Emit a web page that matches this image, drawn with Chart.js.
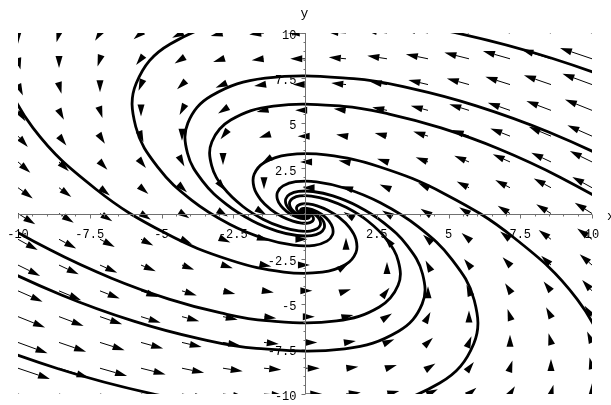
<!DOCTYPE html>
<html>
<head>
<meta charset="utf-8">
<script src="https://cdn.jsdelivr.net/npm/chart.js@4.4.0/dist/chart.umd.min.js"></script>
<style>
  html, body { margin: 0; padding: 0; background: #fff; }
  canvas { display: block; }
</style>
</head>
<body>
<canvas id="phase" width="611" height="405"></canvas>
<script>
// Phase plane of x' = -x - y, y' = x : direction field plus eight solution curves.

// 15 x 15 grid of field samples (rows run from y = 10 down to y = -10)
var gridX = [-10, -8.571, -7.143, -5.714, -4.286, -2.857, -1.429, 0, 1.429, 2.857, 4.286, 5.714, 7.143, 8.571, 10];
var gridY = [10, 8.571, 7.143, 5.714, 4.286, 2.857, 1.429, 0, -1.429, -2.857, -4.286, -5.714, -7.143, -8.571, -10];

// field components, in grid steps of 10/7
var fieldU = [
    [ 0, -1, -2, -3, -4, -5, -6, -7, -8, -9, -10, -11, -12, -13, -14],
    [ 1,  0, -1, -2, -3, -4, -5, -6, -7, -8,  -9, -10, -11, -12, -13],
    [ 2,  1,  0, -1, -2, -3, -4, -5, -6, -7,  -8,  -9, -10, -11, -12],
    [ 3,  2,  1,  0, -1, -2, -3, -4, -5, -6,  -7,  -8,  -9, -10, -11],
    [ 4,  3,  2,  1,  0, -1, -2, -3, -4, -5,  -6,  -7,  -8,  -9, -10],
    [ 5,  4,  3,  2,  1,  0, -1, -2, -3, -4,  -5,  -6,  -7,  -8,  -9],
    [ 6,  5,  4,  3,  2,  1,  0, -1, -2, -3,  -4,  -5,  -6,  -7,  -8],
    [ 7,  6,  5,  4,  3,  2,  1,  0, -1, -2,  -3,  -4,  -5,  -6,  -7],
    [ 8,  7,  6,  5,  4,  3,  2,  1,  0, -1,  -2,  -3,  -4,  -5,  -6],
    [ 9,  8,  7,  6,  5,  4,  3,  2,  1,  0,  -1,  -2,  -3,  -4,  -5],
    [10,  9,  8,  7,  6,  5,  4,  3,  2,  1,   0,  -1,  -2,  -3,  -4],
    [11, 10,  9,  8,  7,  6,  5,  4,  3,  2,   1,   0,  -1,  -2,  -3],
    [12, 11, 10,  9,  8,  7,  6,  5,  4,  3,   2,   1,   0,  -1,  -2],
    [13, 12, 11, 10,  9,  8,  7,  6,  5,  4,   3,   2,   1,   0,  -1],
    [14, 13, 12, 11, 10,  9,  8,  7,  6,  5,   4,   3,   2,   1,   0]
];
var fieldV = [
    [-7, -6, -5, -4, -3, -2, -1, 0, 1, 2, 3, 4, 5, 6, 7],
    [-7, -6, -5, -4, -3, -2, -1, 0, 1, 2, 3, 4, 5, 6, 7],
    [-7, -6, -5, -4, -3, -2, -1, 0, 1, 2, 3, 4, 5, 6, 7],
    [-7, -6, -5, -4, -3, -2, -1, 0, 1, 2, 3, 4, 5, 6, 7],
    [-7, -6, -5, -4, -3, -2, -1, 0, 1, 2, 3, 4, 5, 6, 7],
    [-7, -6, -5, -4, -3, -2, -1, 0, 1, 2, 3, 4, 5, 6, 7],
    [-7, -6, -5, -4, -3, -2, -1, 0, 1, 2, 3, 4, 5, 6, 7],
    [-7, -6, -5, -4, -3, -2, -1, 0, 1, 2, 3, 4, 5, 6, 7],
    [-7, -6, -5, -4, -3, -2, -1, 0, 1, 2, 3, 4, 5, 6, 7],
    [-7, -6, -5, -4, -3, -2, -1, 0, 1, 2, 3, 4, 5, 6, 7],
    [-7, -6, -5, -4, -3, -2, -1, 0, 1, 2, 3, 4, 5, 6, 7],
    [-7, -6, -5, -4, -3, -2, -1, 0, 1, 2, 3, 4, 5, 6, 7],
    [-7, -6, -5, -4, -3, -2, -1, 0, 1, 2, 3, 4, 5, 6, 7],
    [-7, -6, -5, -4, -3, -2, -1, 0, 1, 2, 3, 4, 5, 6, 7],
    [-7, -6, -5, -4, -3, -2, -1, 0, 1, 2, 3, 4, 5, 6, 7]
];
var FIELD_UNIT = 10 / 7;
var ARROW_SCALE = 0.06;

var tickValues = [-10, -7.5, -5, -2.5, 2.5, 5, 7.5, 10];
var tickLabels = ['-10', '-7.5', '-5', '-2.5', '2.5', '5', '7.5', '10'];

// solution curves, outer end first, winding into the origin
var curveA = [[-10.90, 8.88], [-9.479, 4.740], [-7.282, 1.345], [-4.853, -1.100], [-2.589, -2.589], [-0.735, -3.243],
    [0.601, -3.252], [1.415, -2.829], [1.772, -2.173], [1.777, -1.448], [1.546, -0.773], [1.187, -0.219], [0.791, 0.179],
    [0.422, 0.422], [0.120, 0.529], [-0.098, 0.530], [-0.231, 0.461], [-0.289, 0.354], [-0.290, 0.236], [-0.252, 0.126],
    [-0.194, 0.036], [-0.129, -0.029], [-0.069, -0.069], [-0.020, -0.086], [0.016, -0.086], [0.038, -0.075]];
var curveA2 = [[10.90, -8.88], [9.479, -4.740], [7.282, -1.345], [4.853, 1.100], [2.589, 2.589], [0.735, 3.243],
    [-0.601, 3.252], [-1.415, 2.829], [-1.772, 2.173], [-1.777, 1.448], [-1.546, 0.773], [-1.187, 0.219], [-0.791, -0.179],
    [-0.422, -0.422], [-0.120, -0.529], [0.098, -0.530], [0.231, -0.461], [0.289, -0.354], [0.290, -0.236], [0.252, -0.126],
    [0.194, -0.036], [0.129, 0.029], [0.069, 0.069], [0.020, 0.086], [-0.016, 0.086], [-0.038, 0.075]];

var curveB = [[16.10, 3.65], [12.22, 6.50], [8.60, 8.60], [5.31, 9.99], [2.44, 10.76], [-1.99, 10.79], [-4.695, 9.39],
    [-5.880, 7.213], [-5.897, 4.807], [-5.130, 2.565], [-3.941, 0.728], [-2.626, -0.595], [-1.401, -1.401], [-0.398, -1.755],
    [0.325, -1.760], [0.766, -1.531], [0.959, -1.176], [0.961, -0.784], [0.837, -0.418], [0.643, -0.119], [0.428, 0.097],
    [0.229, 0.229], [0.065, 0.286], [-0.053, 0.287], [-0.125, 0.250], [-0.156, 0.192], [-0.157, 0.128], [-0.136, 0.068],
    [-0.105, 0.019], [-0.070, -0.016]];
var curveB2 = [[-16.10, -3.65], [-12.22, -6.50], [-8.60, -8.60], [-5.31, -9.99], [-2.44, -10.76], [1.99, -10.79], [4.695, -9.39],
    [5.880, -7.213], [5.897, -4.807], [5.130, -2.565], [3.941, -0.728], [2.626, 0.595], [1.401, 1.401], [0.398, 1.755],
    [-0.325, 1.760], [-0.766, 1.531], [-0.959, 1.176], [-0.961, 0.784], [-0.837, 0.418], [-0.643, 0.119], [-0.428, -0.097],
    [-0.229, -0.229], [-0.065, -0.286], [0.053, -0.287], [0.125, -0.250], [0.156, -0.192], [0.157, -0.128], [0.136, -0.068],
    [0.105, -0.019], [0.070, 0.016]];

var curveC = [[13.33, -2.46], [11.11, 0.00], [8.885, 2.014], [6.742, 3.587], [4.741, 4.741], [2.932, 5.511], [1.346, 5.937],
    [-1.100, 5.954], [-2.590, 5.180], [-3.244, 3.979], [-3.253, 2.652], [-2.830, 1.415], [-2.174, 0.402], [-1.449, -0.328],
    [-0.773, -0.773], [-0.219, -0.968], [0.179, -0.971], [0.422, -0.845], [0.529, -0.649], [0.530, -0.432], [0.461, -0.231],
    [0.354, -0.065], [0.236, 0.054], [0.126, 0.126], [0.036, 0.158], [-0.029, 0.158], [-0.069, 0.138], [-0.086, 0.106],
    [-0.086, 0.070]];
var curveC2 = [[-13.33, 2.46], [-11.11, 0.00], [-8.885, -2.014], [-6.742, -3.587], [-4.741, -4.741], [-2.932, -5.511], [-1.346, -5.937],
    [1.100, -5.954], [2.590, -5.180], [3.244, -3.979], [3.253, -2.652], [2.830, -1.415], [2.174, -0.402], [1.449, 0.328],
    [0.773, 0.773], [0.219, 0.968], [-0.179, 0.971], [-0.422, 0.845], [-0.529, 0.649], [-0.530, 0.432], [-0.461, 0.231],
    [-0.354, 0.065], [-0.236, -0.054], [-0.126, -0.126], [-0.036, -0.158], [0.029, -0.158], [0.069, -0.138], [0.086, -0.106],
    [0.086, -0.070]];

var curveD = [[16.78, -3.10], [13.98, 0.00], [11.18, 2.535], [8.486, 4.515], [5.967, 5.967], [3.690, 6.936], [1.694, 7.473],
    [-1.385, 7.495], [-3.260, 6.520], [-4.083, 5.009], [-4.094, 3.338], [-3.562, 1.781], [-2.736, 0.506], [-1.824, -0.413],
    [-0.973, -0.973], [-0.276, -1.219], [0.226, -1.222], [0.532, -1.063], [0.666, -0.817], [0.668, -0.544], [0.581, -0.290],
    [0.446, -0.082], [0.297, 0.067], [0.159, 0.159], [0.045, 0.199], [-0.037, 0.199], [-0.087, 0.173], [-0.109, 0.133],
    [-0.109, 0.089], [-0.095, 0.047]];
var curveD2 = [[-16.78, 3.10], [-13.98, 0.00], [-11.18, -2.535], [-8.486, -4.515], [-5.967, -5.967], [-3.690, -6.936], [-1.694, -7.473],
    [1.385, -7.495], [3.260, -6.520], [4.083, -5.009], [4.094, -3.338], [3.562, -1.781], [2.736, -0.506], [1.824, 0.413],
    [0.973, 0.973], [0.276, 1.219], [-0.226, 1.222], [-0.532, 1.063], [-0.666, 0.817], [-0.668, 0.544], [-0.581, 0.290],
    [-0.446, 0.082], [-0.297, -0.067], [-0.159, -0.159], [-0.045, -0.199], [0.037, -0.199], [0.087, -0.173], [0.109, -0.133],
    [0.109, -0.089], [0.095, -0.047]];

var curves = [curveA, curveA2, curveB, curveB2, curveC, curveC2, curveD, curveD2];

function toPoints(list) {
    return list.map(function (p) { return { x: p[0], y: p[1] }; });
}

// fixed-size head whose tip sits at the end of the scaled vector;
// the shaft is only drawn when the vector is longer than the head
var HEAD_LENGTH = 12;
var HEAD_HALF_WIDTH = 3.5;

function drawArrow(ctx, x1, y1, x2, y2) {
    var dx = x2 - x1, dy = y2 - y1;
    var len = Math.sqrt(dx * dx + dy * dy);
    if (len < 0.05) return;
    var ux = dx / len, uy = dy / len;
    var bx = x2 - ux * HEAD_LENGTH, by = y2 - uy * HEAD_LENGTH;
    if (len > HEAD_LENGTH) {
        ctx.beginPath();
        ctx.moveTo(x1, y1);
        ctx.lineTo(bx, by);
        ctx.stroke();
    }
    ctx.beginPath();
    ctx.moveTo(x2, y2);
    ctx.lineTo(bx - uy * HEAD_HALF_WIDTH, by + ux * HEAD_HALF_WIDTH);
    ctx.lineTo(bx + uy * HEAD_HALF_WIDTH, by - ux * HEAD_HALF_WIDTH);
    ctx.closePath();
    ctx.fill();
}

var directionField = {
    id: 'directionField',
    afterDatasetsDraw: function (chart) {
        var ctx = chart.ctx, area = chart.chartArea;
        var sx = chart.scales.x, sy = chart.scales.y;
        ctx.save();
        ctx.beginPath();
        ctx.rect(area.left, area.top, area.right - area.left, area.bottom - area.top);
        ctx.clip();
        ctx.strokeStyle = '#000';
        ctx.fillStyle = '#000';
        ctx.lineWidth = 1;
        for (var r = 0; r < gridY.length; r++) {
            for (var c = 0; c < gridX.length; c++) {
                if (fieldU[r][c] === 0 && fieldV[r][c] === 0) continue;
                var x0 = gridX[c], y0 = gridY[r];
                var x1 = x0 + fieldU[r][c] * FIELD_UNIT * ARROW_SCALE;
                var y1 = y0 + fieldV[r][c] * FIELD_UNIT * ARROW_SCALE;
                drawArrow(ctx, sx.getPixelForValue(x0), sy.getPixelForValue(y0),
                    sx.getPixelForValue(x1), sy.getPixelForValue(y1));
            }
        }
        ctx.restore();
    }
};

// axes through the origin, with ticks every 0.5 and labels every 2.5
var crossAxes = {
    id: 'crossAxes',
    afterDraw: function (chart) {
        var ctx = chart.ctx, area = chart.chartArea;
        var sx = chart.scales.x, sy = chart.scales.y;
        var ox = Math.round(sx.getPixelForValue(0)) + 0.5;
        var oy = Math.round(sy.getPixelForValue(0)) + 0.5;
        ctx.save();
        ctx.strokeStyle = '#707070';
        ctx.lineWidth = 1;
        ctx.beginPath();
        ctx.moveTo(area.left, oy);
        ctx.lineTo(area.right, oy);
        ctx.moveTo(ox, area.top);
        ctx.lineTo(ox, area.bottom);
        for (var k = -20; k <= 20; k++) {
            var v = k * 0.5;
            var len = (k % 5 === 0) ? 4 : 2;
            var px = Math.round(sx.getPixelForValue(v)) + 0.5;
            var py = Math.round(sy.getPixelForValue(v)) + 0.5;
            ctx.moveTo(px, oy);
            ctx.lineTo(px, oy + len);
            ctx.moveTo(ox, py);
            ctx.lineTo(ox - len, py);
        }
        ctx.stroke();

        ctx.fillStyle = '#000';
        ctx.font = '12px "Liberation Mono", "DejaVu Sans Mono", monospace';
        ctx.textBaseline = 'middle';
        ctx.textAlign = 'center';
        tickValues.forEach(function (v, i) {
            ctx.fillText(tickLabels[i], sx.getPixelForValue(v), oy + 20);
        });
        ctx.textAlign = 'right';
        tickValues.forEach(function (v, i) {
            ctx.fillText(tickLabels[i], ox - 9, sy.getPixelForValue(v) + 3);
        });
        ctx.font = '13px "Liberation Mono", "DejaVu Sans Mono", monospace';
        ctx.textAlign = 'center';
        ctx.fillText('y', ox - 1, 14);
        ctx.textAlign = 'left';
        ctx.fillText('x', 607, oy + 2);
        ctx.restore();
    }
};

new Chart(document.getElementById('phase'), {
    type: 'scatter',
    data: {
        datasets: curves.map(function (c) {
            return {
                data: toPoints(c),
                showLine: true,
                borderColor: '#000',
                borderWidth: 2.8,
                pointRadius: 0,
                tension: 0.4,
                clip: 0
            };
        })
    },
    plugins: [directionField, crossAxes],
    options: {
        responsive: false,
        animation: false,
        devicePixelRatio: 1,
        layout: { padding: { left: 18, right: 19, top: 33, bottom: 11 } },
        elements: { line: { capBezierPoints: false, borderCapStyle: 'round', borderJoinStyle: 'round' } },
        plugins: { legend: { display: false }, tooltip: { enabled: false } },
        scales: {
            x: { type: 'linear', min: -10, max: 10, display: false },
            y: { type: 'linear', min: -10, max: 10, display: false }
        }
    }
});
</script>
</body>
</html>
